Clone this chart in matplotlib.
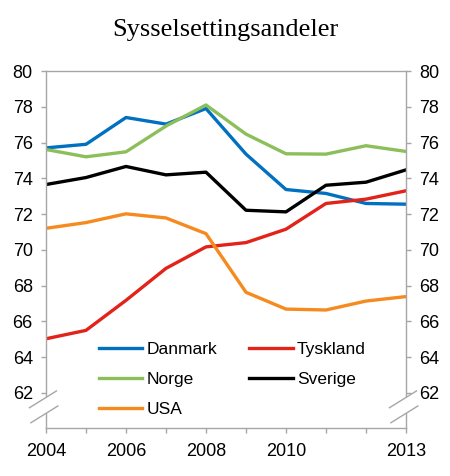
import matplotlib
matplotlib.use("Agg")
import matplotlib.pyplot as plt
from matplotlib.patches import Polygon

years = [2004, 2005, 2006, 2007, 2008, 2009, 2010, 2011, 2012, 2013]
danmark = [75.70, 75.90, 77.40, 77.03, 77.90, 75.35, 73.37, 73.15, 72.59, 72.55]
tyskland = [65.02, 65.49, 67.17, 68.96, 70.16, 70.40, 71.15, 72.59, 72.83, 73.30]
norge = [75.61, 75.20, 75.48, 76.92, 78.10, 76.47, 75.37, 75.35, 75.82, 75.50]
sverige = [73.65, 74.04, 74.66, 74.19, 74.34, 72.21, 72.12, 73.61, 73.78, 74.47]
usa = [71.20, 71.52, 72.01, 71.78, 70.90, 67.62, 66.68, 66.63, 67.13, 67.38]

xlabels = [2004, 2006, 2008, 2010, 2013]
yticks = [62, 64, 66, 68, 70, 72, 74, 76, 78, 80]

plt.rcParams['font.family'] = ['Liberation Sans', 'DejaVu Sans']
grey = '#A6A6A6'

fig = plt.figure(figsize=(4.5, 4.76), dpi=100)
ax = fig.add_axes([0.1022, 0.0998, 0.8, 0.751])

lw = 2.4
h_dk, = ax.plot(years, danmark, color='#0070C0', lw=lw, label='Danmark')
h_de, = ax.plot(years, tyskland, color='#E2231A', lw=lw, label='Tyskland')
h_no, = ax.plot(years, norge, color='#8CBF5A', lw=lw, label='Norge')
h_se, = ax.plot(years, sverige, color='black', lw=lw, label='Sverige')
h_us, = ax.plot(years, usa, color='#F58A1F', lw=lw, label='USA')

ax.set_xlim(2004, 2013)
ax.set_ylim(60, 80)
ax.set_xticks(years)
ax.set_xticklabels([str(y) if y in xlabels else '' for y in years])
ax.set_yticks(yticks)

for s in ax.spines.values():
    s.set_color(grey)
    s.set_linewidth(1.0)

ax.tick_params(axis='both', colors=grey, labelcolor='black', labelsize=13,
               direction='out', length=3.5, width=1.0)
ax.tick_params(axis='y', pad=6, left=True, right=True, labelleft=True, labelright=True)
ax.tick_params(axis='x', pad=7)

# axis break marks on both y spines
def brk(x0):
    up = [(x0 - 0.046, 0.058), (x0 + 0.029, 0.105)]
    lo = [(x0 - 0.042, 0.016), (x0 + 0.033, 0.063)]
    poly = Polygon([up[0], up[1], lo[1], lo[0]], closed=True, transform=ax.transAxes,
                   facecolor='white', edgecolor='none', clip_on=False, zorder=5)
    ax.add_patch(poly)
    for seg in (up, lo):
        ax.plot([seg[0][0], seg[1][0]], [seg[0][1], seg[1][1]], color=grey, lw=1.0,
                transform=ax.transAxes, clip_on=False, zorder=6)

brk(0.0)
brk(1.0)

# legend filled column by column -> row order Danmark/Tyskland, Norge/Sverige, USA
handles = [h_dk, h_no, h_us, h_de, h_se]
ax.legend(handles=handles, labels=[h.get_label() for h in handles],
          loc='upper left', bbox_to_anchor=(0.146, 0.243), ncol=2, frameon=False,
          fontsize=12.5, handlelength=2.5, handletextpad=0.25, columnspacing=1.85,
          labelspacing=0.85, borderpad=0, borderaxespad=0)

fig.text(0.5, 0.937, 'Sysselsettingsandeler', ha='center', va='center',
         family=['Liberation Serif', 'DejaVu Serif'], fontsize=19)

fig.savefig('out.png', dpi=100)
